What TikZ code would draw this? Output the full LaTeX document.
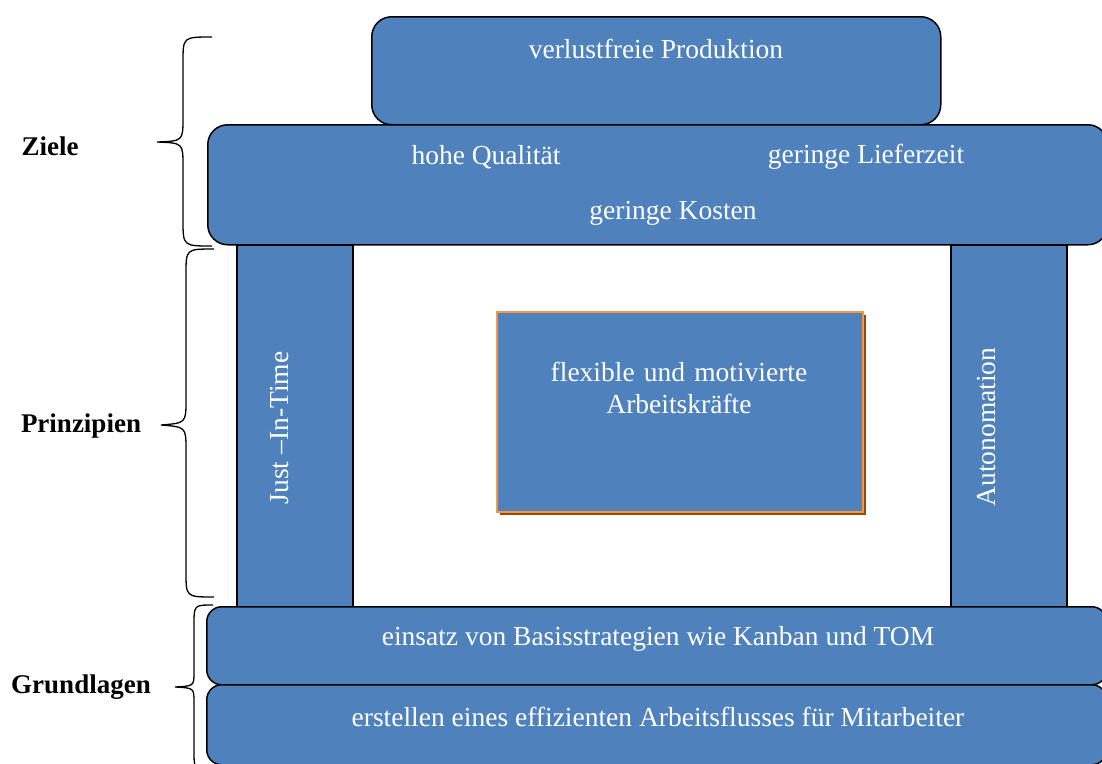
\documentclass[tikz,border=0pt]{standalone}
\usepackage{fontspec}
\setmainfont{Liberation Serif}
\definecolor{boxblue}{HTML}{4F81BD}
\definecolor{boxorange}{HTML}{F79646}
\definecolor{shadowbrown}{HTML}{984807}
\begin{document}
\begin{tikzpicture}[x=1pt,y=-1pt,
  blk/.style={draw=black,line width=1.5pt,fill=boxblue,rectangle,inner sep=0pt,anchor=north west},
  wtxt/.style={text=white,font=\fontsize{27.5}{33}\selectfont,inner sep=0pt,align=center},
  lbl/.style={font=\fontsize{27}{32}\selectfont\bfseries,inner sep=0pt},
  brc/.style={draw=black,line width=1.3pt}]
\useasboundingbox (0,0) rectangle (1102,763);
\clip (0,0) rectangle (1102,763);
% pillars
\node[blk,minimum width=116pt,minimum height=364pt] (jit) at (236,244) {};
\node[blk,minimum width=116pt,minimum height=364pt] (auto) at (950,244) {};
% top boxes
\node[blk,rounded corners=20pt,minimum width=569pt,minimum height=108pt] (top) at (371,16) {};
\node[blk,rounded corners=20pt,minimum width=900pt,minimum height=120pt] (ziel) at (207,124) {};
% bottom boxes
\node[blk,rounded corners=15pt,minimum width=900pt,minimum height=78pt] (basis) at (206,606) {};
\node[blk,rounded corners=15pt,minimum width=900pt,minimum height=80pt] (fluss) at (206,684) {};
% centre box with shadow
\fill[shadowbrown] (500,315) rectangle (866,515);
\node[draw=boxorange,line width=1.8pt,fill=boxblue,rectangle,inner sep=0pt,anchor=north west,minimum width=366pt,minimum height=200pt] (mitte) at (496,311) {};
% texts
\node[wtxt] (t1) at (656,49) {verlustfreie Produktion};
\node[wtxt] (t2) at (486,157) {hohe Qualität};
\node[wtxt] (t3) at (866,157) {geringe Lieferzeit};
\node[wtxt] (t4) at (673,213) {geringe Kosten};
\node[wtxt,text width=360pt] (t5) at (679,388) {flexible und motivierte\\[-1pt]Arbeitskräfte};
\node[wtxt,rotate=90] (t6) at (280,428) {Just –In-Time};
\node[wtxt,rotate=90] (t7) at (987,427) {Autonomation};
\node[wtxt] (t8) at (658,639) {einsatz von Basisstrategien wie Kanban und TOM};
\node[wtxt] (t9) at (658,717) {erstellen eines effizienten Arbeitsflusses für Mitarbeiter};
% labels
\node[lbl] (l1) at (50,146) {Ziele};
\node[lbl] (l2) at (81,426) {Prinzipien};
\node[lbl] (l3) at (81,687) {Grundlagen};
% braces
\draw[brc] (212,37) .. controls (183,37) .. (183,62) -- (183,118) .. controls (183,141) .. (157,142) .. controls (183,143) .. (183,166) -- (183,220) .. controls (183,246) .. (212,246);
\draw[brc] (214,249) .. controls (186,249) .. (186,274) -- (186,400) .. controls (186,423) .. (161,425) .. controls (186,427) .. (186,450) -- (186,572) .. controls (186,597) .. (214,597);
\draw[brc] (213,605) .. controls (194,605) .. (194,625) -- (194,672) .. controls (194,686) .. (175,687) .. controls (194,688) .. (194,702) -- (194,750) .. controls (194,770) .. (213,770);
\end{tikzpicture}
\end{document}
